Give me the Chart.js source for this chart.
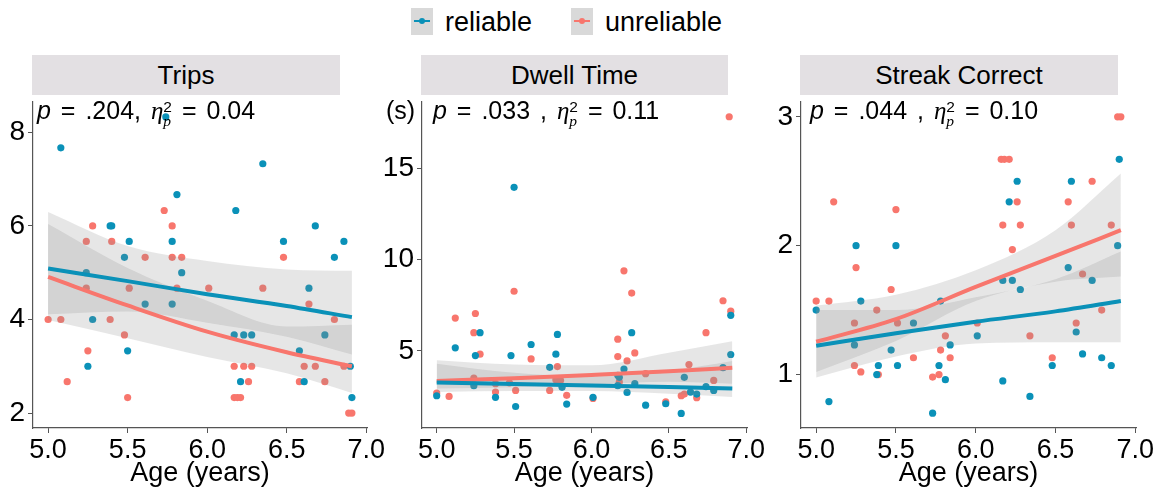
<!DOCTYPE html>
<html>
<head>
<meta charset="utf-8">
<script src="https://cdn.jsdelivr.net/npm/chart.js@4.4.0/dist/chart.umd.min.js"></script>
<style>
  body { margin: 0; background: #fff; font-family: 'Liberation Sans', Arial, sans-serif; color: #000; }
  #wrap { position: relative; width: 1163px; height: 490px; overflow: hidden; }
  canvas { position: absolute; top: 95px; }
  .strip { position: absolute; top: 55px; height: 40px; line-height: 41px; background: #e3e0e3;
           text-align: center; font-size: 26px; }
  .note { position: absolute; top: 96px; font-size: 25px; white-space: nowrap; z-index: 2; word-spacing: 3px; }
  .eta { font-family: 'Liberation Serif', serif; font-style: italic; }
  .ss { display: inline-block; vertical-align: -0.42em; font-size: 0.62em; line-height: 0.9; text-align: left; }
  .ss span { display: block; }
  .legend { position: absolute; top: 8px; height: 27px; font-size: 27px; line-height: 29px; }
  .key { position: absolute; top: 0; width: 22px; height: 27px; background: #d9d9d9; }
  .key .ln { position: absolute; left: 3px; top: 12px; width: 16px; height: 2px; }
  .key .pt { position: absolute; left: 8px; top: 10px; width: 6px; height: 6px; border-radius: 3px; }
</style>
</head>
<body>
<div id="wrap">
  <canvas id="c1" width="395" height="395" style="left:0px"></canvas>
  <canvas id="c2" width="395" height="395" style="left:380px"></canvas>
  <canvas id="c3" width="403" height="395" style="left:760px"></canvas>

  <div class="strip" style="left:32px;width:308px">Trips</div>
  <div class="strip" style="left:421px;width:307px">Dwell Time</div>
  <div class="strip" style="left:800px;width:318px">Streak Correct</div>

  <div class="note" style="left:37px"><i>p</i> = .204, <span class="eta">η</span><span class="ss"><span>2</span><span class="eta">p</span></span> = 0.04</div>
  <div class="note" style="left:386px">(s)</div>
  <div class="note" style="left:433px"><i>p</i> = .033 , <span class="eta">η</span><span class="ss"><span>2</span><span class="eta">p</span></span> = 0.11</div>
  <div class="note" style="left:810px"><i>p</i> = .044 , <span class="eta">η</span><span class="ss"><span>2</span><span class="eta">p</span></span> = 0.10</div>

  <div class="legend" style="left:411px">
    <div class="key" style="left:0"><div class="ln" style="background:#0a91b8"></div><div class="pt" style="background:#0a91b8"></div></div>
    <span style="position:absolute;left:34px">reliable</span>
  </div>
  <div class="legend" style="left:571px">
    <div class="key" style="left:0"><div class="ln" style="background:#f8766d"></div><div class="pt" style="background:#f8766d"></div></div>
    <span style="position:absolute;left:34px">unreliable</span>
  </div>
</div>

<script>
// ---- shared axis values ----
const ageTicks      = [5.0, 5.5, 6.0, 6.5, 7.0];
const ageTickLabels = ['5.0', '5.5', '6.0', '6.5', '7.0'];
const fitAges       = [5.0, 5.5, 6.0, 6.5, 6.91];

// ---- Trips ----
const tripsTicks   = [2, 4, 6, 8];
const tripsRelAge  = [5.08, 5.24, 5.25, 5.28, 5.39, 5.40, 5.48, 5.51, 5.50, 5.61, 5.74, 5.78, 5.81, 5.84, 5.78, 6.18, 6.17, 6.23, 6.28, 6.21, 6.35, 6.48, 6.58, 6.61, 6.64, 6.68, 6.74, 6.80, 6.86, 6.90, 6.91];
const tripsRel     = [7.67, 5.0, 3.0, 4.0, 6.0, 6.0, 5.33, 5.67, 3.33, 4.33, 8.33, 5.67, 6.67, 5.0, 4.33, 6.33, 3.67, 3.67, 3.67, 2.67, 7.33, 5.67, 3.33, 2.67, 4.67, 6.0, 3.67, 5.33, 5.67, 3.0, 2.33];
const tripsUnrAge  = [5.00, 5.08, 5.12, 5.24, 5.24, 5.25, 5.28, 5.39, 5.40, 5.48, 5.50, 5.51, 5.61, 5.73, 5.78, 5.78, 5.84, 5.81, 6.01, 6.17, 6.17, 6.19, 6.21, 6.23, 6.26, 6.28, 6.35, 6.48, 6.58, 6.61, 6.64, 6.68, 6.74, 6.80, 6.86, 6.89, 6.91];
const tripsUnr     = [4.0, 4.0, 2.67, 5.67, 4.67, 3.33, 6.0, 4.0, 5.67, 3.67, 2.33, 4.67, 5.33, 6.33, 6.0, 5.33, 5.33, 4.67, 4.67, 3.0, 2.33, 2.33, 2.33, 3.0, 2.67, 3.0, 4.67, 5.33, 2.67, 3.0, 4.33, 3.0, 2.67, 4.0, 3.0, 2.0, 2.0];
const tripsRelFit  = [5.09, 4.82, 4.54, 4.29, 4.05];
const tripsRelLo   = [4.11, 4.17, 3.93, 3.63, 3.25];
const tripsRelHi   = [6.30, 5.57, 5.25, 5.07, 5.04];
const tripsUnrFit  = [4.91, 4.30, 3.74, 3.30, 3.00];
const tripsUnrLo   = [3.99, 3.60, 3.20, 2.85, 2.43];
const tripsUnrHi   = [6.04, 5.10, 4.40, 3.85, 3.89];

// ---- Dwell Time ----
const dwellTicks   = [5, 10, 15];
const dwellRelAge  = [5.00, 5.12, 5.25, 5.24, 5.28, 5.38, 5.48, 5.50, 5.51, 5.61, 5.73, 5.77, 5.78, 5.81, 5.84, 6.01, 6.17, 6.18, 6.17, 6.21, 6.23, 6.26, 6.28, 6.35, 6.48, 6.58, 6.60, 6.64, 6.68, 6.74, 6.79, 6.85, 6.90, 6.90];
const dwellRel     = [2.54, 5.17, 4.74, 3.09, 6.0, 2.45, 4.74, 13.97, 1.95, 5.35, 4.1, 4.82, 5.9, 3.0, 2.08, 2.45, 3.66, 3.55, 3.09, 4.0, 2.72, 6.0, 3.2, 2.02, 2.1, 1.57, 3.55, 2.74, 2.63, 3.04, 2.83, 4.08, 4.8, 6.95];
const dwellUnrAge  = [5.00, 5.08, 5.12, 5.25, 5.24, 5.28, 5.24, 5.38, 5.38, 5.47, 5.50, 5.51, 5.61, 5.73, 5.78, 5.77, 5.80, 5.84, 6.01, 6.17, 6.17, 6.18, 6.21, 6.23, 6.26, 6.28, 6.35, 6.48, 6.58, 6.60, 6.63, 6.68, 6.74, 6.79, 6.85, 6.90, 6.89];
const dwellUnr     = [2.69, 2.5, 6.8, 7.05, 6.0, 4.82, 3.5, 2.74, 3.2, 3.25, 8.27, 2.83, 4.56, 2.83, 4.14, 3.42, 3.38, 2.56, 2.39, 5.64, 4.69, 3.29, 9.39, 4.45, 8.17, 4.89, 3.75, 2.21, 2.54, 2.63, 4.25, 2.43, 6.0, 3.38, 7.75, 7.18, 17.84];
const dwellRelFit  = [3.26, 3.18, 3.10, 3.02, 2.93];
const dwellRelLo   = [2.75, 2.80, 2.80, 2.65, 2.47];
const dwellRelHi   = [4.30, 3.80, 3.60, 3.90, 4.45];
const dwellUnrFit  = [3.35, 3.50, 3.68, 3.88, 4.08];
const dwellUnrLo   = [2.93, 3.00, 3.15, 3.30, 3.20];
const dwellUnrHi   = [4.49, 4.25, 4.21, 4.90, 5.53];

// ---- Streak Correct ----
const streakTicks  = [1, 2, 3];
const streakRelAge = [5.00, 5.08, 5.24, 5.25, 5.28, 5.38, 5.39, 5.47, 5.50, 5.51, 5.61, 5.73, 5.77, 5.78, 5.81, 5.84, 6.01, 6.17, 6.17, 6.21, 6.23, 6.26, 6.28, 6.34, 6.48, 6.58, 6.60, 6.63, 6.67, 6.73, 6.79, 6.85, 6.89, 6.90];
const streakRel    = [1.50, 0.79, 1.23, 2.0, 1.57, 1.0, 1.07, 1.19, 2.0, 1.07, 1.40, 0.70, 1.07, 1.57, 0.96, 1.23, 1.30, 1.73, 0.95, 2.34, 1.73, 2.50, 1.66, 0.83, 1.07, 1.83, 2.50, 1.33, 1.16, 1.73, 1.13, 1.07, 2.0, 2.67];
const streakUnrAge = [5.00, 5.08, 5.11, 5.24, 5.24, 5.25, 5.28, 5.38, 5.39, 5.47, 5.50, 5.51, 5.61, 5.73, 5.77, 5.78, 5.81, 5.84, 6.01, 6.16, 6.18, 6.21, 6.17, 6.23, 6.26, 6.28, 6.34, 6.48, 6.58, 6.60, 6.63, 6.67, 6.73, 6.79, 6.85, 6.89, 6.91];
const streakUnr    = [1.57, 1.57, 2.34, 1.07, 1.40, 1.83, 1.02, 1.50, 1.0, 1.66, 2.28, 1.40, 1.13, 0.98, 1.0, 1.19, 1.30, 1.13, 1.40, 2.67, 2.67, 2.67, 2.16, 1.97, 2.34, 2.16, 1.30, 1.13, 2.34, 2.16, 1.40, 1.78, 2.50, 1.50, 2.16, 3.0, 3.0];
const streakRelFit = [1.223, 1.32, 1.41, 1.49, 1.571];
const streakRelLo  = [0.977, 1.14, 1.24, 1.25, 1.25];
const streakRelHi  = [1.50, 1.50, 1.60, 1.74, 1.955];
const streakUnrFit = [1.254, 1.43, 1.68, 1.92, 2.12];
const streakUnrLo  = [1.02, 1.26, 1.57, 1.72, 1.76];
const streakUnrHi  = [1.535, 1.62, 1.81, 2.12, 2.56];

const BLUE = '#0a91b8';
const RED  = '#f8766d';
const BAND = 'rgba(140, 140, 140, 0.22)';
const AXIS = '#555';

Chart.defaults.font.family = "'Liberation Sans', Arial, sans-serif";
Chart.defaults.color = '#000';

const pts = (xs, ys) => xs.map((x, i) => ({ x: x, y: ys[i] }));

function bandSets(lo, hi) {
    return [
        { data: pts(fitAges, hi), showLine: true, pointRadius: 0, borderWidth: 0, borderColor: 'transparent',
          backgroundColor: BAND, fill: '+1', cubicInterpolationMode: 'monotone', order: 2 },
        { data: pts(fitAges, lo), showLine: true, pointRadius: 0, borderWidth: 0, borderColor: 'transparent',
          fill: false, cubicInterpolationMode: 'monotone', order: 2 }
    ];
}

function fitLine(ys, color) {
    return { data: pts(fitAges, ys), showLine: true, pointRadius: 0, borderColor: color, borderWidth: 4,
             fill: false, cubicInterpolationMode: 'monotone', order: 1 };
}

function dots(xs, ys, color) {
    return { data: pts(xs, ys), pointRadius: 3.6, borderWidth: 0, backgroundColor: color,
             pointBackgroundColor: color, order: 3 };
}

function makePanel(id, p) {
    new Chart(document.getElementById(id), {
        type: 'scatter',
        data: {
            datasets: [
                dots(p.relAge, p.rel, BLUE),
                dots(p.unrAge, p.unr, RED),
                ...bandSets(p.relLo, p.relHi),
                ...bandSets(p.unrLo, p.unrHi),
                fitLine(p.relFit, BLUE),
                fitLine(p.unrFit, RED)
            ]
        },
        options: {
            responsive: false,
            animation: false,
            layout: { padding: { top: 7, right: p.padRight, left: 0, bottom: 0 } },
            plugins: { legend: { display: false }, tooltip: { enabled: false } },
            scales: {
                x: {
                    type: 'linear', min: 4.905, max: 7.005,
                    afterBuildTicks: s => { s.ticks = ageTicks.map(v => ({ value: v })); },
                    afterFit: s => { s.height = 62; s.paddingLeft = 0; s.paddingRight = 0; },
                    ticks: { callback: (v, i) => ageTickLabels[i], font: { size: 27 }, padding: 1, maxRotation: 0 },
                    grid: { display: true, drawOnChartArea: false, drawTicks: true, tickLength: 5, color: AXIS },
                    border: { display: true, color: AXIS, width: 1.2 },
                    title: { display: true, text: 'Age (years)', font: { size: 27 }, padding: { top: 0, bottom: 0 } }
                },
                y: {
                    type: 'linear', min: p.yMin, max: p.yMax,
                    afterBuildTicks: s => { s.ticks = p.ticks.map(v => ({ value: v })); },
                    afterFit: s => { s.width = p.yWidth; s.paddingTop = 0; s.paddingBottom = 0; },
                    ticks: { callback: v => String(v), font: { size: 28 }, padding: 3 },
                    grid: { display: true, drawOnChartArea: false, drawTicks: true, tickLength: 5, color: AXIS },
                    border: { display: true, color: AXIS, width: 1.2 }
                }
            }
        }
    });
}

makePanel('c1', {
    relAge: tripsRelAge, rel: tripsRel, unrAge: tripsUnrAge, unr: tripsUnr,
    relFit: tripsRelFit, relLo: tripsRelLo, relHi: tripsRelHi,
    unrFit: tripsUnrFit, unrLo: tripsUnrLo, unrHi: tripsUnrHi,
    ticks: tripsTicks, yMin: 1.68, yMax: 8.65, yWidth: 33, padRight: 28
});
makePanel('c2', {
    relAge: dwellRelAge, rel: dwellRel, unrAge: dwellUnrAge, unr: dwellUnr,
    relFit: dwellRelFit, relLo: dwellRelLo, relHi: dwellRelHi,
    unrFit: dwellUnrFit, unrLo: dwellUnrLo, unrHi: dwellUnrHi,
    ticks: dwellTicks, yMin: 0.77, yMax: 18.65, yWidth: 42, padRight: 28
});
makePanel('c3', {
    relAge: streakRelAge, rel: streakRel, unrAge: streakUnrAge, unr: streakUnr,
    relFit: streakRelFit, relLo: streakRelLo, relHi: streakRelHi,
    unrFit: streakUnrFit, unrLo: streakUnrLo, unrHi: streakUnrHi,
    ticks: streakTicks, yMin: 0.585, yMax: 3.115, yWidth: 41, padRight: 27
});
</script>
</body>
</html>
